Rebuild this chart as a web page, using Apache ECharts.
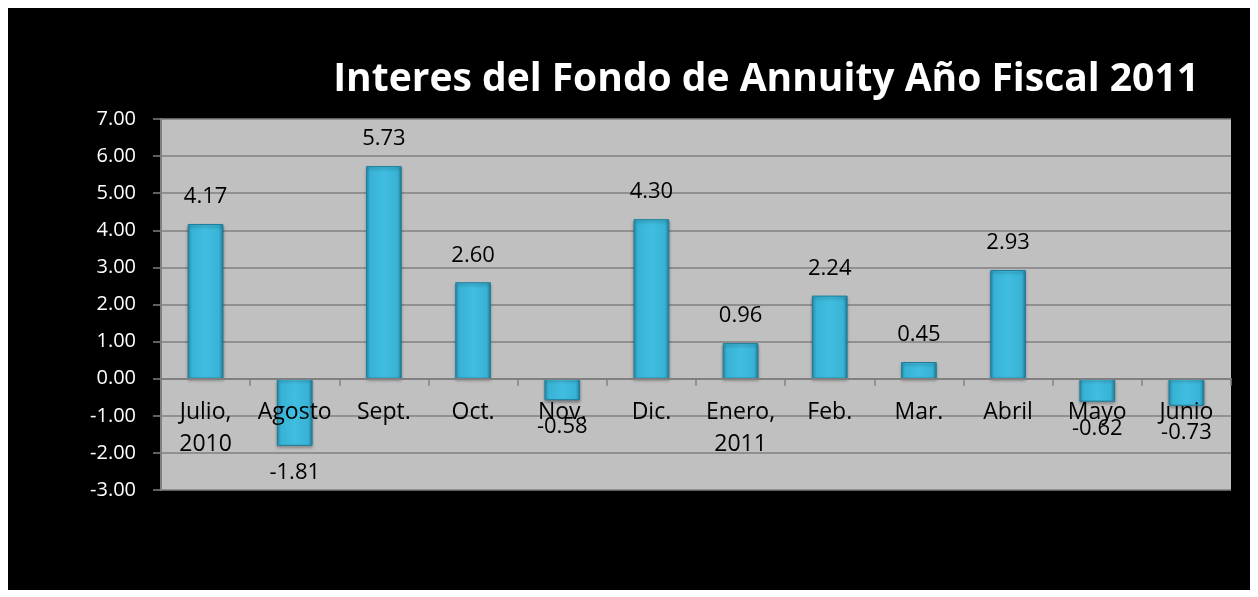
<!DOCTYPE html>
<html>
<head>
<meta charset="utf-8">
<script src="https://cdn.jsdelivr.net/npm/echarts@6/dist/echarts.min.js"></script>
<style>
  html, body { margin: 0; padding: 0; background: #fff; }
  #chart { position: absolute; left: 8px; top: 8px; width: 1242px; height: 582px; background: #000; }
</style>
</head>
<body>
<div id="chart"></div>
<script>
const months = ['Julio,\n2010', 'Agosto', 'Sept.', 'Oct.', 'Nov.', 'Dic.', 'Enero,\n2011', 'Feb.', 'Mar.', 'Abril', 'Mayo', 'Junio']
const interest = [4.17, -1.81, 5.73, 2.60, -0.58, 4.30, 0.96, 2.24, 0.45, 2.93, -0.62, -0.73]
const titleText = 'Interes del Fondo de Annuity Año Fiscal 2011'

const yMin = -3
const yMax = 7
const gridTop = 111
const gridBottom = 100
const gridHeight = 582 - gridTop - gridBottom
// distance from the bottom of the plot to the zero line
const zeroOffset = gridHeight * (0 - yMin) / (yMax - yMin)

const chart = echarts.init(document.getElementById('chart'))

const barFill = new echarts.graphic.LinearGradient(0, 0, 1, 0, [
  { offset: 0, color: '#2796b8' },
  { offset: 0.12, color: '#38b3d6' },
  { offset: 0.5, color: '#40bde0' },
  { offset: 0.88, color: '#38b3d6' },
  { offset: 1, color: '#2384a2' },
])

chart.setOption({
  backgroundColor: '#000',
  textStyle: { fontFamily: 'Open Sans, sans-serif' },
  title: {
    text: titleText,
    right: 46,
    top: 47,
    textStyle: {
      color: '#fff',
      fontSize: 39,
      fontWeight: 'bold',
      fontFamily: 'Open Sans, sans-serif',
    },
  },
  grid: {
    left: 153,
    right: 19,
    top: gridTop,
    bottom: gridBottom,
    show: true,
    backgroundColor: '#c0c0c0',
    borderWidth: 0,
  },
  xAxis: {
    type: 'category',
    data: months,
    position: 'bottom',
    offset: -zeroOffset,
    z: 10,
    axisLine: { onZero: false, lineStyle: { color: '#808080', width: 2 } },
    axisTick: { show: true, length: 7, lineStyle: { color: '#808080', width: 1.5 } },
    axisLabel: {
      show: true,
      color: '#000',
      fontSize: 23,
      lineHeight: 32,
      margin: 18,
      interval: 0,
    },
  },
  yAxis: {
    type: 'value',
    min: yMin,
    max: yMax,
    interval: 1,
    axisLine: { show: true, lineStyle: { color: '#808080', width: 2 } },
    axisTick: { show: true, length: 8, lineStyle: { color: '#808080', width: 1.5 } },
    axisLabel: {
      color: '#fff',
      fontSize: 20,
      margin: 25,
      formatter: (v) => v.toFixed(2),
    },
    splitLine: { lineStyle: { color: '#808080', width: 1.5 } },
  },
  series: [
    {
      type: 'bar',
      data: interest.map((v) => ({
        value: v,
        label: { position: v < 0 ? 'bottom' : 'top' },
      })),
      barWidth: '40%',
      itemStyle: {
        color: barFill,
        borderColor: '#1f7d98',
        borderWidth: 1,
        shadowColor: 'rgba(0,0,0,0.35)',
        shadowBlur: 3,
        shadowOffsetY: 2,
      },
      label: {
        show: true,
        color: '#000',
        fontSize: 22,
        distance: 16,
        formatter: (p) => p.value.toFixed(2),
      },
    },
  ],
})
</script>
</body>
</html>
